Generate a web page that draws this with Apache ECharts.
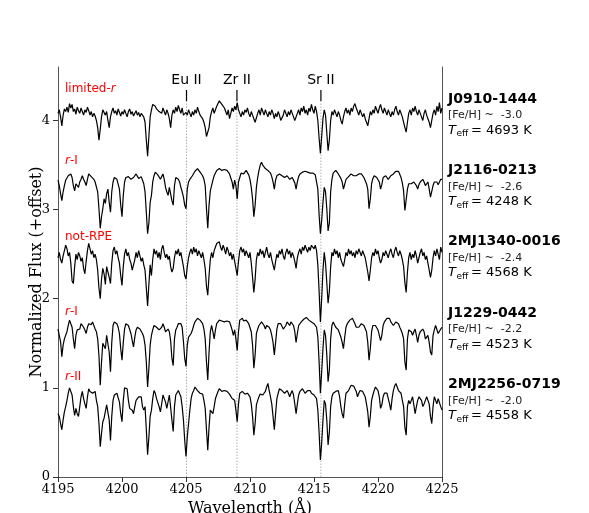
<!DOCTYPE html>
<html><head><meta charset="utf-8">
<script src="https://cdn.jsdelivr.net/npm/echarts@6/dist/echarts.min.js"></script>
<style>html,body{margin:0;padding:0;background:#fff}#c{width:589px;height:513px}</style>
</head><body><div id="c"></div>
<script>
// ---------- data ----------
const waveStart = 4195.0;   // first sample (Å)
const waveStep = 0.1;       // sampling (Å)
const xTicks = [4195, 4200, 4205, 4210, 4215, 4220, 4225];
const yTicks = [0, 1, 2, 3, 4];
const starNames = ['J0910-1444', 'J2116-0213', '2MJ1340-0016', 'J1229-0442', '2MJ2256-0719'];
const starFeH = ['-3.0', '-2.6', '-2.4', '-2.2', '-2.0'];
const starTeff = ['4693', '4248', '4568', '4523', '4558'];
const starClass = ['limited-r', 'r-I', 'not-RPE', 'r-I', 'r-II'];
const offsets = [3.2, 2.4, 1.6, 0.8, 0.0];
const lineIds = ['Eu II', 'Zr II', 'Sr II'];
const lineWaves = [4205.04, 4208.98, 4215.54];

// normalized flux (percent), one value per 0.1 Å from 4195.0 to 4225.0
const fluxJ0910 = [
88,92,84,74,86,93,90,95,89,99, 94,98,90,93,87,95,91,88,94,90,
86,92,89,95,91,86,90,84,88,85, 80,72,58,70,84,92,89,86,90,80,
72,84,90,94,88,91,86,93,89,85, 90,87,92,88,84,90,93,87,90,85,
88,91,86,89,84,88,90,84,78,58, 40,62,84,92,98,100,96,93,95,90,
92,88,94,90,86,92,88,82,72,86, 92,88,95,90,97,92,88,94,86,84,
89,86,92,88,84,90,86,92,88,95, 90,86,88,82,78,72,62,60,72,84,
90,94,88,92,96,98,102,104,98,100, 94,90,86,92,82,88,94,90,96,92,
100,92,88,84,90,86,92,89,94,88, 84,90,86,82,78,80,88,92,86,94,
90,86,92,88,84,90,86,92,88,82, 88,84,90,86,80,78,86,92,88,84,
90,86,92,88,84,80,82,88,92,86, 94,90,96,88,92,86,94,90,98,92,
88,96,90,80,60,43,62,82,92,86, 66,46,58,80,90,86,92,88,84,90,
86,80,76,84,90,94,88,92,86,94, 90,96,99,94,90,86,92,88,84,88,
82,78,74,82,90,86,92,88,96,92, 88,94,98,92,88,94,90,86,92,88,
84,90,86,92,96,90,86,92,88,84, 78,72,67,78,88,92,86,94,90,96,
90,86,92,88,84,80,88,92,86,82, 78,72,80,88,92,86,96,90,100,88,94
];
const fluxJ2116 = [
93,87,78,70,80,87,93,94,98,100, 100,96,87,81,89,89,85,91,94,98,
94,91,87,94,100,99,97,95,94,91, 89,80,61,39,52,61,72,67,78,83,
68,57,80,91,96,96,94,93,83,65, 52,76,91,96,98,97,96,94,93,96,
98,100,99,95,95,97,96,89,80,57, 33,45,68,76,91,98,102,101,99,97,
94,97,100,94,85,80,76,85,83,70, 65,87,96,98,94,91,85,80,74,65,
61,83,91,94,96,98,100,103,105,106, 104,102,100,98,94,87,61,39,65,81,
87,93,98,101,104,105,106,105,104,104, 105,106,104,102,100,98,91,83,93,87,
72,91,96,101,102,100,101,104,102,99, 94,85,72,52,65,85,96,104,110,113,
110,109,106,105,104,103,101,97,91,83, 93,98,100,100,99,98,97,96,97,98,
96,94,95,96,94,90,83,91,97,100, 102,102,103,103,104,102,100,101,102,101,
100,99,97,83,54,33,48,68,85,80, 61,36,45,80,94,101,103,104,102,100,
98,95,91,83,83,94,96,97,99,100, 100,98,97,98,98,100,102,100,98,96,
94,89,83,61,72,89,95,98,97,96, 94,91,83,88,96,97,98,96,94,96,
98,99,100,100,103,104,103,101,96,90, 81,59,57,83,89,91,89,87,91,93,
87,83,88,91,93,94,91,87,89,91, 83,74,72,87,91,93,91,88,91,94,94
];
const fluxJ1340 = [
86,92,84,80,88,94,100,96,88,92, 80,60,57,76,90,84,92,88,82,86,
74,68,82,94,102,96,90,94,86,90, 84,72,52,40,62,74,68,56,76,70,
64,57,80,94,98,90,94,86,80,66, 55,76,90,96,88,92,84,80,72,70,
84,92,86,94,88,82,86,78,72,52, 32,56,78,66,84,96,90,94,86,92,
84,96,100,92,86,90,84,88,76,70, 74,86,94,90,96,88,92,84,76,66,
62,76,86,92,96,90,98,92,96,88, 94,90,86,92,84,74,54,44,66,84,
92,86,94,98,102,100,104,98,94,100, 96,90,98,94,88,92,84,90,82,74,
66,82,94,98,92,96,88,94,90,86, 92,80,64,47,62,84,92,88,96,90,
94,86,92,98,90,86,92,84,78,72, 82,90,86,94,90,96,88,84,92,96,
90,94,86,92,88,82,74,86,92,96, 90,98,94,100,96,92,98,94,100,102,
96,100,94,78,48,14,40,72,92,80, 58,35,48,76,92,88,96,90,94,86,
92,84,80,76,84,92,88,96,90,94, 88,92,86,94,90,96,92,88,94,90,
86,78,70,60,72,86,92,88,96,90, 94,86,80,84,92,88,94,90,86,92,
96,90,86,94,98,92,88,94,90,84, 76,58,47,70,86,92,84,90,86,94,
88,80,86,92,96,88,92,84,88,80, 72,64,72,86,94,88,96,90,84,98,92
];
const fluxJ1229 = [
86,84,72,55,68,75,77,83,90,96, 94,88,75,64,79,85,83,86,92,94,
88,85,81,88,92,90,91,94,92,86, 83,75,56,23,49,70,72,64,79,81,
60,38,71,90,94,94,92,88,81,64, 51,71,86,92,94,90,88,81,73,66,
77,85,88,90,86,85,81,77,68,49, 21,42,68,79,85,90,92,88,86,85,
83,88,92,88,83,85,86,83,73,53, 45,75,85,88,92,94,92,88,72,53,
44,68,77,79,81,85,90,94,96,98, 97,96,94,92,86,75,49,29,60,83,
90,83,75,85,92,94,96,96,95,96, 94,93,95,96,94,90,85,79,85,75,
62,83,96,98,98,95,94,96,94,92, 90,83,68,42,57,81,86,90,92,94,
94,90,86,90,92,88,85,79,71,57, 71,86,92,94,92,90,86,85,90,94,
92,90,94,96,90,83,71,81,90,92, 94,96,97,98,99,98,96,94,94,92,
92,90,88,77,49,14,38,64,85,79, 57,27,40,75,90,94,92,88,86,85,
81,77,71,64,77,88,92,94,96,97, 98,96,92,88,86,88,90,92,92,90,
88,83,71,51,64,83,90,92,90,88, 85,83,73,79,90,94,96,98,99,98,
94,92,90,92,94,93,92,88,85,81, 75,49,40,75,85,86,83,79,83,86,
79,71,79,83,85,86,83,75,77,79, 71,60,57,79,85,90,88,81,79,86,88
];
const fluxJ2256 = [
71,68,60,53,64,73,79,86,94,100, 98,92,79,69,77,71,68,79,90,96,
88,82,77,90,99,96,94,94,96,96, 86,79,60,34,49,62,66,68,81,82,
64,41,68,86,92,94,94,92,84,71, 62,86,100,101,99,86,77,79,75,71,
79,86,88,90,90,90,79,75,79,53, 25,45,68,75,88,97,94,88,86,79,
73,82,92,94,84,77,79,92,90,64, 51,79,92,94,97,97,90,79,64,41,
23,45,60,75,88,94,97,101,99,97, 96,94,94,93,86,77,53,30,56,75,
75,71,79,88,92,96,99,98,96,94, 97,97,96,94,93,92,88,86,86,75,
62,82,94,96,96,94,93,94,94,94, 90,82,68,47,60,81,86,90,93,94,
92,90,96,101,105,97,90,82,68,53, 71,88,94,99,101,97,96,94,96,97,
94,90,94,97,92,82,71,82,92,96, 98,99,97,94,94,97,99,97,94,94,
92,90,88,75,49,19,38,64,86,82, 64,36,50,79,90,94,96,96,97,97,
90,79,71,66,82,94,96,97,99,103, 105,102,99,96,90,94,97,97,96,94,
90,82,73,56,68,86,92,97,101,99, 97,90,77,81,90,94,94,94,92,82,
75,88,97,102,105,101,97,96,94,86, 79,56,47,79,86,82,86,90,81,71,
79,86,90,92,86,79,82,86,90,92, 82,68,60,79,90,86,82,88,90,79,75
];
const fluxes = [fluxJ0910, fluxJ2116, fluxJ1340, fluxJ1229, fluxJ2256];

// ---------- chart ----------
const chart = echarts.init(document.getElementById('c'), null, {renderer: 'canvas'});
const SERIF = 'DejaVu Serif';
const SANS = 'DejaVu Sans';
const X0 = xTicks[0], X1 = xTicks[xTicks.length - 1];
const YMAX = 4.6;
const markLow = 4.219, markHigh = 4.342, labelY = 4.454;

const series = [];
lineWaves.forEach(w => {
  series.push({type: 'line', data: [[w, 0], [w, markLow]], showSymbol: false, silent: true, z: 1,
    lineStyle: {color: '#b0b0b0', width: 1, type: [1.5, 1.5]}, animation: false});
  series.push({type: 'line', data: [[w, markLow], [w, markHigh]], showSymbol: false, silent: true, z: 3,
    lineStyle: {color: '#000', width: 1.2}, animation: false});
});
fluxes.forEach((f, k) => {
  series.push({
    type: 'line', name: starNames[k], showSymbol: false, animation: false, z: 2,
    data: f.map((v, i) => [+(waveStart + waveStep * i).toFixed(2), offsets[k] + v / 100]),
    lineStyle: {color: '#000', width: 1.2}
  });
});

const frame = {lineStyle: {color: '#555', width: 1}};
chart.setOption({
  backgroundColor: '#fff',
  animation: false,
  grid: {left: 58, top: 67, width: 384, height: 410},
  xAxis: [{
    type: 'value', min: X0, max: X1, interval: 5,
    axisLine: frame, splitLine: {show: false},
    axisTick: {show: true, inside: false, length: 5, lineStyle: {color: '#333'}, customValues: xTicks},
    axisLabel: {color: '#000', fontFamily: SERIF, fontSize: 13, margin: 6, customValues: xTicks,
      formatter: v => String(v)}
  }, {
    type: 'value', min: X0, max: X1, position: 'top',
    axisLine: frame, axisTick: {show: false}, axisLabel: {show: false}, splitLine: {show: false}
  }],
  yAxis: [{
    type: 'value', min: 0, max: YMAX, interval: 1,
    axisLine: {show: true, ...frame}, splitLine: {show: false},
    axisTick: {show: true, inside: false, length: 5, lineStyle: {color: '#333'}, customValues: yTicks},
    axisLabel: {color: '#000', fontFamily: SERIF, fontSize: 13, margin: 8, customValues: yTicks,
      formatter: v => String(v)}
  }, {
    type: 'value', min: 0, max: YMAX, position: 'right',
    axisLine: {show: true, ...frame}, axisTick: {show: false}, axisLabel: {show: false}, splitLine: {show: false}
  }],
  series: series
});

// ---------- annotations ----------
const g = [];
g.push({type: 'text', x: 250, y: 509, style: {text: 'Wavelength (Å)', font: '16px "' + SERIF + '"', fill: '#000', align: 'center', verticalAlign: 'middle'}});
g.push({type: 'text', x: 37, y: 272, rotation: Math.PI / 2, style: {text: 'Normalized Flux (+offset)', font: '16px "' + SERIF + '"', fill: '#000', align: 'center', verticalAlign: 'middle'}});
lineIds.forEach((id, j) => {
  const p = chart.convertToPixel({gridIndex: 0}, [lineWaves[j], labelY]);
  g.push({type: 'text', x: p[0], y: p[1], style: {text: id, font: '14px "' + SANS + '"', fill: '#000', align: 'center', verticalAlign: 'middle'}});
});
const classY = [89, 161, 237, 312, 377];
starClass.forEach((c, k) => {
  const rich = {n: {fontFamily: SANS, fontSize: 12, fill: 'red'}, i: {fontFamily: SANS, fontSize: 12, fontStyle: 'italic', fill: 'red'}};
  let txt;
  if (c === 'limited-r') txt = '{n|limited-}{i|r}';
  else if (c === 'not-RPE') txt = '{n|not-RPE}';
  else txt = '{i|r}{n|' + c.slice(1) + '}';
  g.push({type: 'text', x: 65, y: classY[k], style: {text: txt, rich: rich, fill: 'red', font: '12px "' + SANS + '"', align: 'left', verticalAlign: 'middle'}});
});
starNames.forEach((n, k) => {
  const y0 = 99 + 71.3 * k;
  g.push({type: 'text', x: 448, y: y0, style: {text: n, font: 'bold 14px "' + SANS + '"', fill: '#000', align: 'left', verticalAlign: 'middle'}});
  g.push({type: 'text', x: 448, y: y0 + 16.5, style: {text: '[Fe/H] ~  ' + starFeH[k], font: '11px "' + SANS + '"', fill: '#222', align: 'left', verticalAlign: 'middle'}});
  g.push({type: 'text', x: 448, y: y0 + 31.5, style: {text: 'T', font: 'italic 13px "' + SANS + '"', fill: '#000', align: 'left', verticalAlign: 'middle'}});
  g.push({type: 'text', x: 456.5, y: y0 + 35, style: {text: 'eff', font: '9px "' + SANS + '"', fill: '#000', align: 'left', verticalAlign: 'middle'}});
  g.push({type: 'text', x: 471, y: y0 + 31.5, style: {text: '= ' + starTeff[k] + ' K', font: '13px "' + SANS + '"', fill: '#000', align: 'left', verticalAlign: 'middle'}});
});
chart.setOption({graphic: g});
</script>
</body></html>
